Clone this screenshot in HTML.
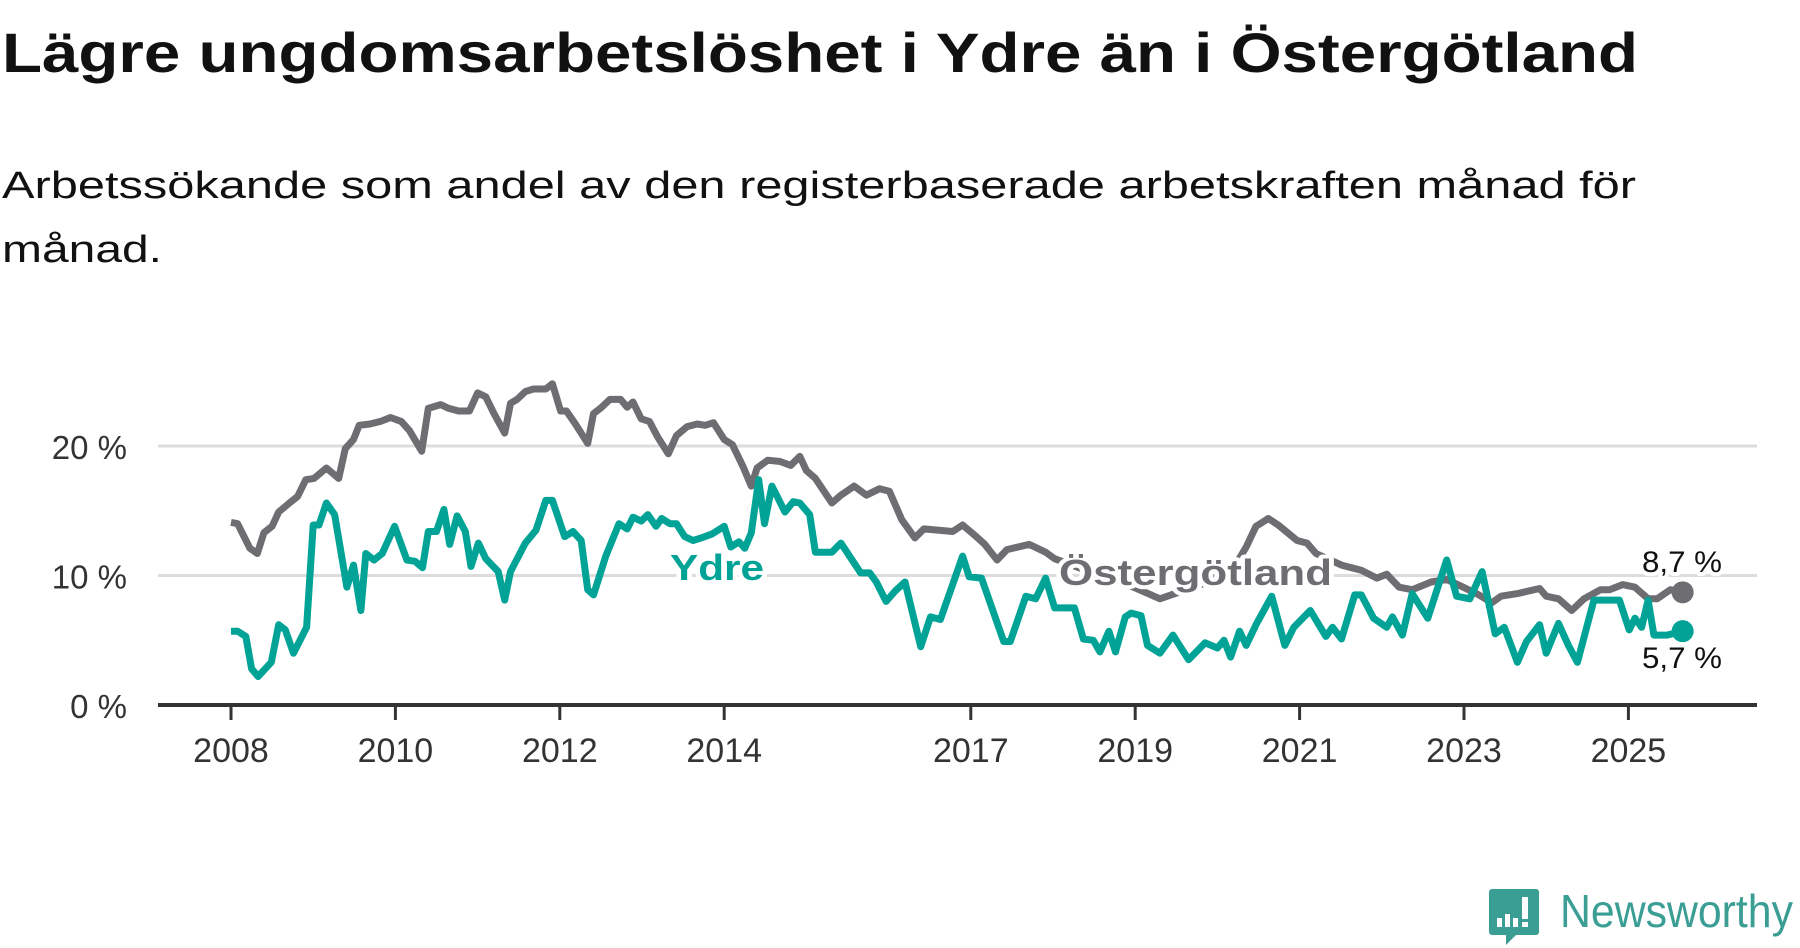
<!DOCTYPE html>
<html><head><meta charset="utf-8"><style>
html,body{margin:0;padding:0;background:#fff;width:1800px;height:948px;overflow:hidden}
svg{display:block}
text{font-family:"Liberation Sans",sans-serif}
</style></head><body>
<svg id="chart" width="1800" height="948" viewBox="0 0 1800 948">
<text x="2" y="72" font-size="56" font-weight="bold" fill="#111" textLength="1636" lengthAdjust="spacingAndGlyphs">Lägre ungdomsarbetslöshet i Ydre än i Östergötland</text>
<text x="2" y="198" font-size="38" fill="#111" textLength="1634" lengthAdjust="spacingAndGlyphs">Arbetssökande som andel av den registerbaserade arbetskraften månad för</text>
<text x="2" y="262" font-size="38" fill="#111" textLength="160" lengthAdjust="spacingAndGlyphs">månad.</text>
<g id="grid"></g>
<g id="yaxis"></g>
<g id="xaxis"></g>
<g id="series"></g>
<g id="labels"></g>
<g>
<path d="M1492 889 h44 a3 3 0 0 1 3 3 v40 a3 3 0 0 1 -3 3 h-20 l-10 10 v-10 h-14 a3 3 0 0 1 -3 -3 v-40 a3 3 0 0 1 3 -3z" fill="#3a9e94"/>
<rect x="1497" y="918" width="5" height="9" fill="#fff"/><rect x="1505" y="914" width="5" height="13" fill="#fff"/><rect x="1513" y="918" width="5" height="9" fill="#fff"/><rect x="1522" y="897" width="6" height="22" fill="#fff"/><rect x="1522" y="922" width="6" height="5" fill="#fff"/>
<text x="1560" y="927" font-size="46" fill="#3a9e94" textLength="233" lengthAdjust="spacingAndGlyphs">Newsworthy</text>
</g>
</svg>
<script>
const yTicks=[0,10,20];
const yTickLabels=["0 %","10 %","20 %"];
const xTicks=[2008,2010,2012,2014,2017,2019,2021,2023,2025];
const ostDates=[2008.0,2008.08,2008.23,2008.32,2008.40,2008.50,2008.58,2008.71,2008.81,2008.91,2009.01,2009.16,2009.31,2009.39,2009.49,2009.56,2009.69,2009.82,2009.94,2010.07,2010.17,2010.32,2010.40,2010.55,2010.65,2010.77,2010.90,2011.00,2011.10,2011.20,2011.33,2011.40,2011.48,2011.58,2011.68,2011.83,2011.91,2012.01,2012.08,2012.19,2012.34,2012.41,2012.51,2012.61,2012.74,2012.82,2012.89,2012.99,2013.09,2013.19,2013.32,2013.42,2013.55,2013.67,2013.77,2013.87,2014.00,2014.10,2014.23,2014.33,2014.40,2014.53,2014.68,2014.81,2014.92,2015.00,2015.11,2015.31,2015.42,2015.58,2015.73,2015.89,2016.01,2016.16,2016.32,2016.43,2016.78,2016.90,2017.05,2017.17,2017.32,2017.44,2017.71,2017.91,2018.02,2018.40,2018.80,2019.30,2019.80,2020.20,2020.35,2020.47,2020.62,2020.74,2020.97,2021.09,2021.20,2021.51,2021.75,2021.94,2022.06,2022.21,2022.37,2022.60,2022.79,2022.99,2023.18,2023.34,2023.45,2023.65,2023.92,2024.00,2024.15,2024.31,2024.46,2024.66,2024.77,2024.93,2025.08,2025.24,2025.35,2025.51,2025.66];
const ostValues=[14.1,14.0,12.1,11.7,13.3,13.8,14.9,15.6,16.1,17.4,17.5,18.3,17.5,19.8,20.5,21.6,21.7,21.9,22.2,21.9,21.2,19.6,22.9,23.2,22.9,22.7,22.7,24.1,23.8,22.5,21.0,23.3,23.6,24.2,24.4,24.4,24.8,22.7,22.7,21.7,20.2,22.5,23.0,23.6,23.6,23.0,23.4,22.1,21.9,20.7,19.4,20.8,21.5,21.7,21.6,21.8,20.5,20.1,18.4,16.9,18.3,18.9,18.8,18.5,19.2,18.1,17.5,15.6,16.2,16.9,16.2,16.7,16.5,14.3,12.9,13.6,13.4,13.9,13.1,12.4,11.2,12.0,12.4,11.8,11.3,10.4,9.6,8.2,9.3,10.6,12.2,13.8,14.4,13.9,12.7,12.5,11.7,10.8,10.4,9.8,10.1,9.1,8.9,9.5,9.7,9.1,8.5,7.9,8.4,8.6,9.0,8.4,8.2,7.3,8.2,8.9,8.9,9.3,9.1,8.2,8.2,8.9,8.7];
const ydreDates=[2008.0,2008.08,2008.18,2008.25,2008.33,2008.49,2008.58,2008.66,2008.76,2008.92,2009.00,2009.07,2009.16,2009.26,2009.41,2009.49,2009.58,2009.64,2009.74,2009.84,2009.99,2010.14,2010.24,2010.33,2010.40,2010.50,2010.59,2010.66,2010.75,2010.85,2010.92,2011.01,2011.10,2011.25,2011.33,2011.40,2011.58,2011.71,2011.83,2011.91,2012.06,2012.16,2012.26,2012.34,2012.41,2012.56,2012.72,2012.82,2012.89,2012.99,2013.07,2013.17,2013.24,2013.34,2013.42,2013.52,2013.62,2013.72,2013.85,2014.00,2014.08,2014.18,2014.25,2014.33,2014.42,2014.49,2014.58,2014.74,2014.84,2014.92,2015.04,2015.11,2015.31,2015.42,2015.66,2015.77,2015.85,2015.97,2016.08,2016.20,2016.39,2016.51,2016.63,2016.90,2016.98,2017.13,2017.40,2017.48,2017.67,2017.79,2017.91,2018.02,2018.26,2018.37,2018.49,2018.57,2018.68,2018.76,2018.88,2018.95,2019.07,2019.15,2019.30,2019.46,2019.65,2019.85,2020.00,2020.08,2020.16,2020.27,2020.35,2020.47,2020.66,2020.82,2020.93,2021.13,2021.32,2021.40,2021.51,2021.67,2021.75,2021.90,2022.06,2022.13,2022.25,2022.37,2022.56,2022.79,2022.91,2023.07,2023.22,2023.38,2023.49,2023.65,2023.76,2023.92,2024.00,2024.15,2024.27,2024.38,2024.58,2024.89,2025.01,2025.08,2025.16,2025.24,2025.31,2025.47,2025.66];
const ydreValues=[5.7,5.7,5.3,2.8,2.2,3.3,6.2,5.8,4.0,6.0,13.9,13.9,15.6,14.7,9.1,10.8,7.3,11.7,11.2,11.7,13.8,11.2,11.1,10.6,13.4,13.4,15.1,12.4,14.6,13.4,10.7,12.5,11.3,10.3,8.1,10.3,12.5,13.5,15.8,15.8,13.0,13.4,12.7,8.9,8.5,11.5,14.0,13.6,14.5,14.2,14.7,13.8,14.4,14.0,14.0,13.0,12.7,12.9,13.2,13.8,12.2,12.6,12.1,13.3,17.4,14.0,16.9,14.9,15.7,15.6,14.7,11.8,11.8,12.5,10.2,10.2,9.5,8.0,8.8,9.5,4.5,6.8,6.6,11.5,9.9,9.8,4.9,4.9,8.4,8.2,9.8,7.5,7.5,5.1,5.0,4.1,5.7,4.1,6.8,7.1,6.9,4.6,4.0,5.4,3.5,4.8,4.4,5.0,3.7,5.7,4.6,6.2,8.4,4.6,6.0,7.3,5.3,6.0,5.1,8.5,8.5,6.7,6.0,6.8,5.4,8.6,6.7,11.2,8.4,8.2,10.3,5.5,6.0,3.3,4.9,6.2,4.0,6.3,4.6,3.3,8.1,8.1,5.8,6.7,6.0,8.1,5.4,5.4,5.7];
const ostLast="8,7 %", ydreLast="5,7 %";

const NS="http://www.w3.org/2000/svg";
const X0=158,X1=1757;
function xs(y){return 231+(y-2008)*82.2;}
function ys(v){return 705-v*12.95;}
function mk(tag,attrs,parent){const e=document.createElementNS(NS,tag);for(const k in attrs)e.setAttribute(k,attrs[k]);parent.appendChild(e);return e;}
const grid=document.getElementById('grid'),yax=document.getElementById('yaxis'),xax=document.getElementById('xaxis'),ser=document.getElementById('series'),lab=document.getElementById('labels');
yTicks.forEach((t,i)=>{
  if(t!==0){const g=mk('line',{x1:X0,x2:X1,y1:ys(t),y2:ys(t),stroke:'#dcdcdc','stroke-width':3},grid);
  
  }
  const tx=mk('text',{x:127,y:ys(t)+13,'font-size':33,fill:'#333','text-anchor':'end'},yax);
  tx.textContent=yTickLabels[i];
  
  
});
xTicks.forEach(t=>{
  const l=mk('line',{x1:xs(t),x2:xs(t),y1:705,y2:720,stroke:'#333','stroke-width':3},xax);
  
  
  const tx=mk('text',{x:xs(t),y:762,'font-size':34,fill:'#333','text-anchor':'middle'},xax);
  tx.textContent=t;
  
  
});
const ax=mk('line',{x1:X0,x2:X1,y1:705,y2:705,stroke:'#333','stroke-width':4},xax);


function path(d,v){return d.map((t,i)=>(i?'L':'M')+xs(t).toFixed(1)+' '+ys(v[i]).toFixed(1)).join(' ');}
const po=mk('path',{d:path(ostDates,ostValues),fill:'none',stroke:'#6e6d72','stroke-width':7,'stroke-linejoin':'round'},ser);


const py=mk('path',{d:path(ydreDates,ydreValues),fill:'none',stroke:'#00a396','stroke-width':7,'stroke-linejoin':'round'},ser);


const lo=ostDates.length-1, ly=ydreDates.length-1;
const d1=mk('circle',{cx:xs(ostDates[lo]),cy:ys(ostValues[lo]),r:11,fill:'#6e6d72'},ser);


const d2=mk('circle',{cx:xs(ydreDates[ly]),cy:ys(ydreValues[ly]),r:11,fill:'#00a396'},ser);


function label(txt,x,y,fs,fill,bold,name,len){
  const h=mk('text',{x:x,y:y,'font-size':fs,fill:'#fff',stroke:'#fff','stroke-width':8,'stroke-linejoin':'round','font-weight':bold?'bold':'normal',textLength:len,lengthAdjust:'spacingAndGlyphs'},lab);
  h.textContent=txt;
  
  
  const t=mk('text',{x:x,y:y,'font-size':fs,fill:fill,'font-weight':bold?'bold':'normal',textLength:len,lengthAdjust:'spacingAndGlyphs'},lab);
  t.textContent=txt;
  
  
}
label('Ydre',670,580,36,'#00a396',true,'ydre-label',94);
label('Östergötland',1059,585,36,'#6e6d72',true,'ostergotland-label',273);
label(ostLast,1642,572,30,'#111',false,'ostergotland-value-label',80);
label(ydreLast,1642,668,30,'#111',false,'ydre-value-label',80);
</script>
</body></html>
